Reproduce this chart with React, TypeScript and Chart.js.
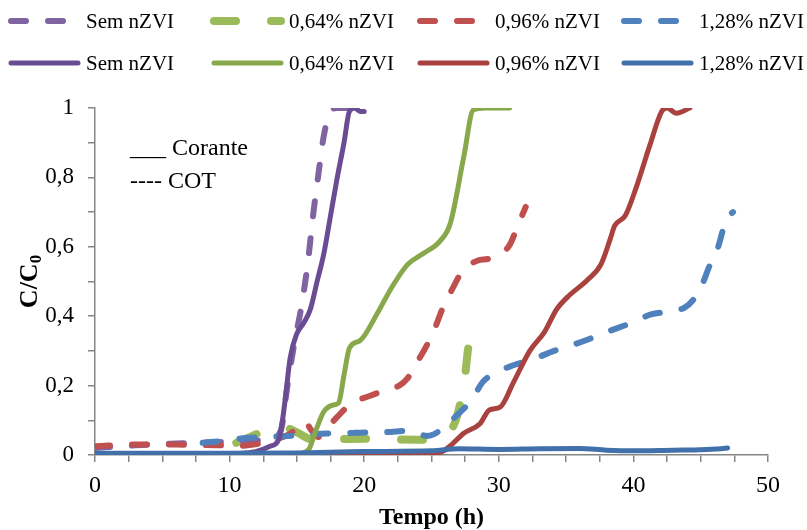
import React, { useEffect, useRef } from "react";
import { Chart, registerables } from "chart.js";

Chart.register(...registerables);

// ---- Data (tempo h, C/C0) ----
const seriesLabels = ["Sem nZVI", "0,64% nZVI", "0,96% nZVI", "1,28% nZVI"];

// COT (dashed)
const semCOT: [number, number][] = [
  [0, 0.02], [3, 0.028], [6, 0.033], [9, 0.037], [11, 0.04], [13, 0.045], [13.8, 0.07],
  [14.3, 0.2], [14.8, 0.32], [15.3, 0.42], [15.8, 0.55], [16.2, 0.69], [16.6, 0.81],
  [17, 0.92], [17.5, 0.99], [18, 1.0], [19, 1.0],
];
const p064COT: [number, number][] = [
  [10.5, 0.035], [12, 0.06], [13, 0.078], [14, 0.08], [15, 0.065], [16, 0.045], [17, 0.04],
  [18, 0.045], [20, 0.047], [22, 0.045], [24, 0.044], [25.3, 0.046], [26, 0.06], [26.7, 0.09],
  [27.2, 0.16], [27.5, 0.23], [27.7, 0.3], [27.9, 0.34],
];
const p096COT: [number, number][] = [
  [0, 0.025], [3, 0.03], [6, 0.03], [9, 0.028], [11, 0.027], [12.5, 0.035], [13.5, 0.045],
  [14.5, 0.062], [15.6, 0.095], [16.1, 0.07], [16.6, 0.052], [17.3, 0.08], [18, 0.11],
  [19.1, 0.15], [20.4, 0.17], [21.8, 0.19], [22.6, 0.2], [23.2, 0.22], [23.9, 0.265],
  [24.7, 0.32], [25.3, 0.37], [25.9, 0.43], [26.5, 0.475], [27.3, 0.53], [28.4, 0.56],
  [29.2, 0.565], [29.9, 0.575], [30.8, 0.605], [31.4, 0.66], [32, 0.715],
];
const p128COT: [number, number][] = [
  [8, 0.035], [9.8, 0.042], [11, 0.048], [12.8, 0.052], [14.3, 0.055], [15.7, 0.058],
  [17.2, 0.062], [18.7, 0.063], [20, 0.065], [21.7, 0.066], [23.2, 0.07], [24.7, 0.055],
  [25.2, 0.06], [25.9, 0.08], [26.9, 0.115], [28, 0.16], [28.8, 0.21], [29.9, 0.24],
  [31.2, 0.26], [32.8, 0.28], [34.1, 0.3], [35.7, 0.32], [37.1, 0.34], [38.4, 0.36],
  [39.8, 0.38], [41.3, 0.405], [42.9, 0.415], [43.8, 0.425], [44.4, 0.445], [45.1, 0.49],
  [45.6, 0.54], [46.3, 0.6], [46.7, 0.655], [47.0, 0.685], [47.4, 0.7],
];

// Corante (solid)
const semCor: [number, number][] = [
  [0, 0.004], [5, 0.003], [10, 0.003], [11, 0.005], [12, 0.01], [13, 0.025], [13.7, 0.05],
  [14.1, 0.15], [14.5, 0.28], [15, 0.35], [15.5, 0.38], [16, 0.42], [16.5, 0.5], [17, 0.58],
  [17.5, 0.69], [18, 0.8], [18.5, 0.9], [18.9, 0.99], [19.3, 1.0], [19.7, 0.99], [20, 0.99],
];
const p064Cor: [number, number][] = [
  [0, 0.002], [10, 0.002], [15, 0.003], [15.85, 0.014], [16.4, 0.07], [17, 0.125],
  [17.7, 0.144], [18.1, 0.15], [18.5, 0.23], [18.9, 0.308], [19.7, 0.33], [21, 0.41],
  [22, 0.48], [23.2, 0.548], [24.4, 0.581], [25.6, 0.615], [26.4, 0.668], [27.4, 0.86],
  [28.1, 0.994], [29, 1.0], [30.8, 1.0],
];
const p096Cor: [number, number][] = [
  [0, 0.003], [10, 0.003], [20, 0.004], [25, 0.005], [25.8, 0.01], [26.5, 0.03],
  [27.4, 0.063], [28.6, 0.09], [29.3, 0.13], [30.1, 0.138], [31.1, 0.21], [32.3, 0.3],
  [33.4, 0.355], [34.3, 0.42], [35.1, 0.455], [36.6, 0.505], [37.6, 0.55], [38.3, 0.625],
  [38.6, 0.66], [39.4, 0.69], [40.2, 0.77], [41.2, 0.89], [42.1, 0.99], [42.5, 1.0],
  [43.2, 0.985], [44.2, 1.0],
];
const p128Cor: [number, number][] = [
  [0, 0.005], [10, 0.005], [15, 0.006], [20, 0.01], [25, 0.012], [27, 0.018], [30, 0.016],
  [33, 0.018], [36, 0.019], [38, 0.014], [40, 0.012], [43, 0.014], [45, 0.015],
  [46.5, 0.018], [47, 0.02],
];

const xTickValues = [0, 10, 20, 30, 40, 50];
const yTickValues = [0, 0.2, 0.4, 0.6, 0.8, 1];
const legendNoteSolid = "___ Corante";
const legendNoteDashed = "---- COT";
const xTitle = "Tempo (h)";
const yTitleMain = "C/C";
const yTitleSub = "0";

const SERIF = '"Liberation Serif", "Times New Roman", serif';

const toXY = (arr: [number, number][]) => arr.map(([x, y]) => ({ x, y }));

const overlayPlugin = {
  id: "overlay",
  afterDraw(chart: any) {
    const ctx: CanvasRenderingContext2D = chart.ctx;
    const ds = chart.data.datasets;
    ctx.save();
    // legend
    const rowsY = [21, 63];
    const colX = [8, 211, 417, 621];
    for (let r = 0; r < 2; r++) {
      for (let c = 0; c < 4; c++) {
        const d = ds[r * 4 + c];
        const x0 = colX[c];
        const y = rowsY[r];
        ctx.beginPath();
        ctx.strokeStyle = d.borderColor;
        ctx.lineWidth = d.borderWidth;
        ctx.lineCap = "round";
        ctx.setLineDash(d.borderDash || []);
        ctx.moveTo(x0 + 3, y);
        ctx.lineTo(x0 + 70, y);
        ctx.stroke();
        ctx.setLineDash([]);
        ctx.fillStyle = "#000";
        ctx.font = `21px ${SERIF}`;
        ctx.textBaseline = "middle";
        ctx.textAlign = "left";
        ctx.fillText(d.label, x0 + 78, y + 1);
      }
    }
    // note
    ctx.font = `24px ${SERIF}`;
    ctx.textBaseline = "alphabetic";
    ctx.fillStyle = "#000";
    ctx.fillText(legendNoteSolid, 130, 155);
    ctx.fillText(legendNoteDashed, 130, 188);
    // x title
    const ca = chart.chartArea;
    ctx.font = `bold 24px ${SERIF}`;
    ctx.textAlign = "center";
    ctx.textBaseline = "middle";
    ctx.fillText(xTitle, (ca.left + ca.right) / 2, 518);
    // y title
    ctx.translate(30, (ca.top + ca.bottom) / 2);
    ctx.rotate(-Math.PI / 2);
    ctx.font = `bold 26px ${SERIF}`;
    const w1 = ctx.measureText(yTitleMain).width;
    ctx.font = `bold 17px ${SERIF}`;
    const w2 = ctx.measureText(yTitleSub).width;
    const start = -(w1 + w2) / 2;
    ctx.textAlign = "left";
    ctx.font = `bold 26px ${SERIF}`;
    ctx.fillText(yTitleMain, start, 0);
    ctx.font = `bold 17px ${SERIF}`;
    ctx.fillText(yTitleSub, start + w1, 7);
    ctx.restore();
  },
};

const dashedStyle = (color: string, width: number, dash: number[], order: number) => ({
  borderColor: color,
  backgroundColor: color,
  borderWidth: width,
  borderDash: dash,
  borderCapStyle: "round" as const,
  borderJoinStyle: "round" as const,
  order,
});
const solidStyle = (color: string, width: number, order: number) => ({
  borderColor: color,
  backgroundColor: color,
  borderWidth: width,
  borderDash: [] as number[],
  borderCapStyle: "round" as const,
  borderJoinStyle: "round" as const,
  order,
});

export default function App() {
  const ref = useRef<HTMLCanvasElement>(null);
  useEffect(() => {
    if (!ref.current) return;
    const common = { pointRadius: 0, pointHoverRadius: 0, fill: false, cubicInterpolationMode: "monotone" as const };
    const chart = new Chart(ref.current, {
      type: "line",
      data: {
        datasets: [
          { label: seriesLabels[0], data: toXY(semCOT), ...common, ...dashedStyle("#8064A2", 6, [15, 22], 6) },
          { label: seriesLabels[1], data: toXY(p064COT), ...common, ...dashedStyle("#9BBB59", 8, [22, 35], 7) },
          { label: seriesLabels[2], data: toXY(p096COT), ...common, ...dashedStyle("#C0504D", 6, [15, 22], 5) },
          { label: seriesLabels[3], data: toXY(p128COT), ...common, ...dashedStyle("#4F81BD", 6, [15, 22], 4) },
          { label: seriesLabels[0], data: toXY(semCor), ...common, ...solidStyle("#6A4C93", 5, 3) },
          { label: seriesLabels[1], data: toXY(p064Cor), ...common, ...solidStyle("#88A84B", 5, 2) },
          { label: seriesLabels[2], data: toXY(p096Cor), ...common, ...solidStyle("#A9423F", 5, 1) },
          { label: seriesLabels[3], data: toXY(p128Cor), ...common, ...solidStyle("#4170AA", 5, 0) },
        ] as any,
      },
      options: {
        animation: false,
        responsive: false,
        maintainAspectRatio: false,
        devicePixelRatio: 1,
        layout: { padding: { top: 108, right: 39, left: 0, bottom: 0 } },
        plugins: { legend: { display: false }, tooltip: { enabled: false } },
        scales: {
          x: {
            type: "linear",
            min: 0,
            max: 50,
            afterFit: (s: any) => { s.height = 75; },
            ticks: {
              stepSize: 2.5,
              autoSkip: false,
              maxRotation: 0,
              padding: 9,
              color: "#000",
              font: { family: SERIF, size: 24 },
              callback: (v: any) => (xTickValues.includes(Number(v)) ? String(v) : ""),
            },
            grid: { drawOnChartArea: false, drawTicks: true, tickLength: 7, color: "#868686", lineWidth: 1.5 },
            border: { display: true, color: "#868686", width: 1.5 },
          },
          y: {
            type: "linear",
            min: 0,
            max: 1,
            afterFit: (s: any) => { s.width = 95; },
            ticks: {
              stepSize: 0.1,
              autoSkip: false,
              padding: 14,
              color: "#000",
              font: { family: SERIF, size: 23 },
              callback: (v: any) => {
                const r = Math.round(Number(v) * 10) / 10;
                return yTickValues.some((t) => Math.abs(t - r) < 1e-9) ? String(r).replace(".", ",") : "";
              },
            },
            grid: { drawOnChartArea: false, drawTicks: true, tickLength: 7, color: "#868686", lineWidth: 1.5 },
            border: { display: true, color: "#868686", width: 1.5 },
          },
        },
      },
      plugins: [overlayPlugin],
    });
    return () => chart.destroy();
  }, []);
  return (
    <div style={{ position: "absolute", left: 0, top: 0, width: 807, height: 530, background: "#fff" }}>
      <canvas ref={ref} width={807} height={530} style={{ display: "block", width: 807, height: 530 }} />
    </div>
  );
}
